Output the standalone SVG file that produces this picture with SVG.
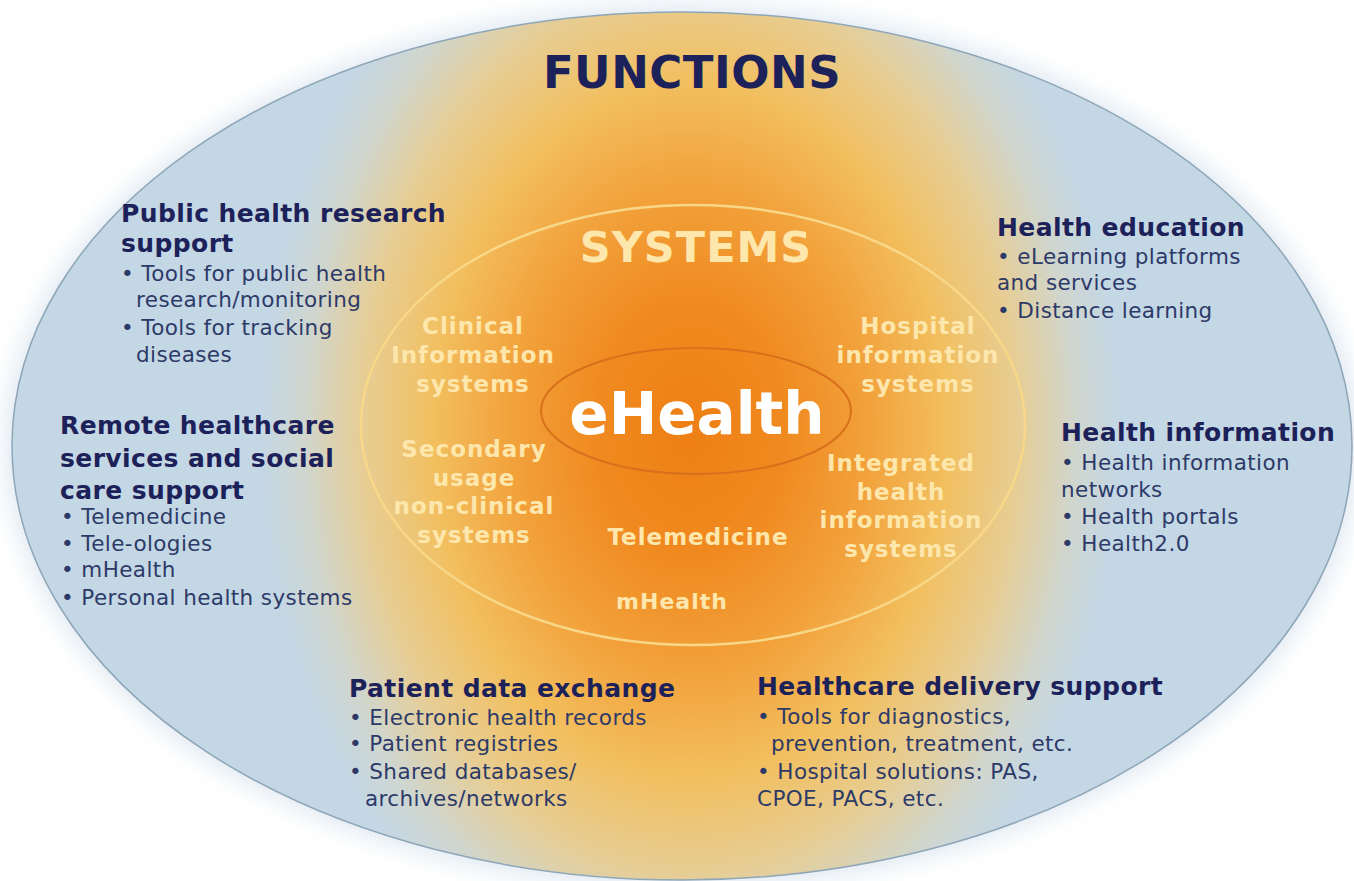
<svg xmlns="http://www.w3.org/2000/svg" width="1354" height="881" viewBox="0 0 1354 881">
  <defs>
    <radialGradient id="core" gradientUnits="userSpaceOnUse" cx="690" cy="430" r="430" gradientTransform="translate(690 430) scale(1 1.35) translate(-690 -430)">
      <stop offset="0" stop-color="#ee7f14"/>
      <stop offset="0.22" stop-color="#f08a20"/>
      <stop offset="0.42" stop-color="#f2a23c"/>
      <stop offset="0.6" stop-color="#f2bf5f"/>
      <stop offset="0.76" stop-color="#e7cd93"/>
      <stop offset="0.9" stop-color="#cfd6cf"/>
      <stop offset="1" stop-color="#c4d7e5"/>
    </radialGradient>
    <filter id="glow" x="-10%" y="-10%" width="120%" height="120%">
      <feGaussianBlur stdDeviation="12"/>
    </filter>
    <style>
      .title { font-family: "DejaVu Sans", Verdana, sans-serif; font-weight: bold; font-size: 25px; letter-spacing: 0.4px; fill: #1d2159; }
      .body { font-family: "DejaVu Sans", Verdana, sans-serif; font-size: 21.5px; letter-spacing: 0.4px; fill: #2d3a68; }
      .sys { font-family: "DejaVu Sans", Verdana, sans-serif; font-weight: bold; font-size: 23px; letter-spacing: 1px; fill: #fde7ad; text-anchor: middle; }
    </style>
  </defs>
  <rect width="1354" height="881" fill="#ffffff"/>
  <g id="background">
    <ellipse cx="682" cy="446" rx="676" ry="440" fill="#cfdeea" opacity="0.7" filter="url(#glow)"/>
    <ellipse cx="682" cy="446" rx="670" ry="434" fill="url(#core)" stroke="#8ea6b8" stroke-width="1.5"/>
    <ellipse cx="693" cy="425" rx="332" ry="220" fill="none" stroke="#f8d888" stroke-width="2.5"/>
    <ellipse cx="696" cy="411" rx="155" ry="63" fill="none" stroke="#d8701c" stroke-width="2"/>
  </g>
  <g id="connectors"/>
  <g id="functions">
    <text x="692" y="88" text-anchor="middle" style="font-family:'DejaVu Sans',Verdana,sans-serif;font-weight:bold;font-size:45px;letter-spacing:0.5px;fill:#1d2159">FUNCTIONS</text>
  </g>
  <g id="systems">
    <text x="696" y="262" text-anchor="middle" style="font-family:'DejaVu Sans',Verdana,sans-serif;font-weight:bold;font-size:43px;letter-spacing:1px;fill:#fde7ad">SYSTEMS</text>
  </g>
  <g id="ehealth">
    <text x="697" y="434" text-anchor="middle" style="font-family:'DejaVu Sans',Verdana,sans-serif;font-weight:bold;font-size:58px;fill:#ffffff">eHealth</text>
  </g>
  <g id="sys-clinical">
    <text class="sys" x="473" y="334">Clinical</text>
    <text class="sys" x="473" y="363">Information</text>
    <text class="sys" x="473" y="392">systems</text>
  </g>
  <g id="sys-hospital">
    <text class="sys" x="918" y="334">Hospital</text>
    <text class="sys" x="918" y="363">information</text>
    <text class="sys" x="918" y="392">systems</text>
  </g>
  <g id="sys-secondary">
    <text class="sys" x="474" y="457">Secondary</text>
    <text class="sys" x="474" y="486">usage</text>
    <text class="sys" x="474" y="514">non-clinical</text>
    <text class="sys" x="474" y="543">systems</text>
  </g>
  <g id="sys-integrated">
    <text class="sys" x="901" y="471">Integrated</text>
    <text class="sys" x="901" y="500">health</text>
    <text class="sys" x="901" y="528">information</text>
    <text class="sys" x="901" y="557">systems</text>
  </g>
  <g id="sys-telemedicine">
    <text class="sys" x="698" y="545">Telemedicine</text>
  </g>
  <g id="sys-mhealth">
    <text class="sys" x="672" y="609" style="font-size:22px">mHealth</text>
  </g>
  <g id="fn-public-health">
    <text class="title" x="121" y="222">Public health research</text>
    <text class="title" x="121" y="252">support</text>
    <text class="body" x="121" y="281">• Tools for public health</text>
    <text class="body" x="136" y="307">research/monitoring</text>
    <text class="body" x="121" y="335">• Tools for tracking</text>
    <text class="body" x="136" y="362">diseases</text>
  </g>
  <g id="fn-remote">
    <text class="title" x="60" y="434">Remote healthcare</text>
    <text class="title" x="60" y="467">services and social</text>
    <text class="title" x="60" y="499">care support</text>
    <text class="body" x="61" y="524">• Telemedicine</text>
    <text class="body" x="61" y="551">• Tele-ologies</text>
    <text class="body" x="61" y="577">• mHealth</text>
    <text class="body" x="61" y="605">• Personal health systems</text>
  </g>
  <g id="fn-education">
    <text class="title" x="997" y="236">Health education</text>
    <text class="body" x="997" y="264">• eLearning platforms</text>
    <text class="body" x="997" y="290">and services</text>
    <text class="body" x="997" y="318">• Distance learning</text>
  </g>
  <g id="fn-information">
    <text class="title" x="1061" y="441">Health information</text>
    <text class="body" x="1061" y="470">• Health information</text>
    <text class="body" x="1061" y="497">networks</text>
    <text class="body" x="1061" y="524">• Health portals</text>
    <text class="body" x="1061" y="551">• Health2.0</text>
  </g>
  <g id="fn-patient-data">
    <text class="title" x="349" y="697">Patient data exchange</text>
    <text class="body" x="349" y="725">• Electronic health records</text>
    <text class="body" x="349" y="751">• Patient registries</text>
    <text class="body" x="349" y="779">• Shared databases/</text>
    <text class="body" x="365" y="806">archives/networks</text>
  </g>
  <g id="fn-delivery">
    <text class="title" x="757" y="695">Healthcare delivery support</text>
    <text class="body" x="757" y="724">• Tools for diagnostics,</text>
    <text class="body" x="771" y="751">prevention, treatment, etc.</text>
    <text class="body" x="757" y="779">• Hospital solutions: PAS,</text>
    <text class="body" x="757" y="806">CPOE, PACS, etc.</text>
  </g>
</svg>
